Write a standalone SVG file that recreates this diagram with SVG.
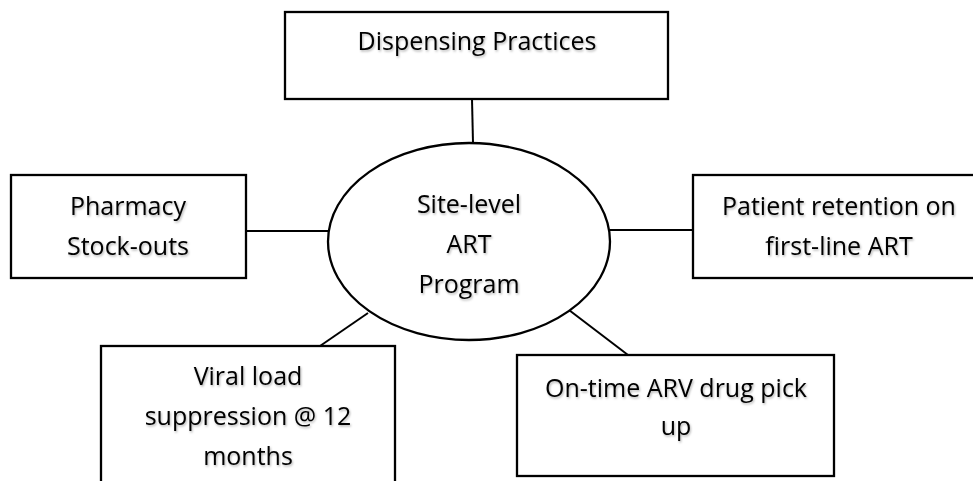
<svg xmlns="http://www.w3.org/2000/svg" width="973" height="481" viewBox="0 0 973 481">
  <defs>
    <style>
      .box { fill: #ffffff; stroke: #000000; stroke-width: 2.3; }
      .conn { stroke: #000000; stroke-width: 2; fill: none; }
      .lbl { font-family: "Open Sans", "Noto Sans", "Liberation Sans", sans-serif; font-size: 25px; fill: #000000; text-anchor: middle; filter: url(#shadow); }
    </style>
    <filter id="shadow" x="-10%" y="-30%" width="120%" height="160%">
      <feDropShadow dx="1" dy="1.5" stdDeviation="0.8" flood-color="#000000" flood-opacity="0.3"/>
    </filter>
  </defs>
  <rect width="973" height="481" fill="#ffffff"/>
  <g id="connectors">
    <line class="conn" x1="472" y1="99" x2="473" y2="143"/>
    <line class="conn" x1="246" y1="231" x2="328" y2="231"/>
    <line class="conn" x1="610" y1="230" x2="693" y2="230"/>
    <line class="conn" x1="320" y1="346" x2="368" y2="313"/>
    <line class="conn" x1="628" y1="355" x2="569" y2="310"/>
  </g>
  <g id="dispensing">
    <rect class="box" x="285" y="12" width="383" height="87"/>
    <text class="lbl" x="477" y="50">Dispensing Practices</text>
  </g>
  <g id="pharmacy">
    <rect class="box" x="11" y="175" width="235" height="103"/>
    <text class="lbl" x="128" y="215">Pharmacy</text>
    <text class="lbl" x="128" y="255">Stock-outs</text>
  </g>
  <g id="center">
    <ellipse class="box" cx="469" cy="241.5" rx="141" ry="98.5" stroke-width="2"/>
    <text class="lbl" x="469" y="213">Site-level</text>
    <text class="lbl" x="469" y="253">ART</text>
    <text class="lbl" x="469" y="293">Program</text>
  </g>
  <g id="retention">
    <rect class="box" x="693" y="175" width="292" height="103"/>
    <text class="lbl" x="839" y="215">Patient retention on</text>
    <text class="lbl" x="839" y="255">first-line ART</text>
  </g>
  <g id="viral">
    <rect class="box" x="101" y="346" width="294" height="145"/>
    <text class="lbl" x="248" y="385">Viral load</text>
    <text class="lbl" x="248" y="425">suppression @ 12</text>
    <text class="lbl" x="248" y="465">months</text>
  </g>
  <g id="pickup">
    <rect class="box" x="517" y="355" width="317" height="121"/>
    <text class="lbl" x="676" y="397">On-time ARV drug pick</text>
    <text class="lbl" x="676" y="435">up</text>
  </g>
</svg>
